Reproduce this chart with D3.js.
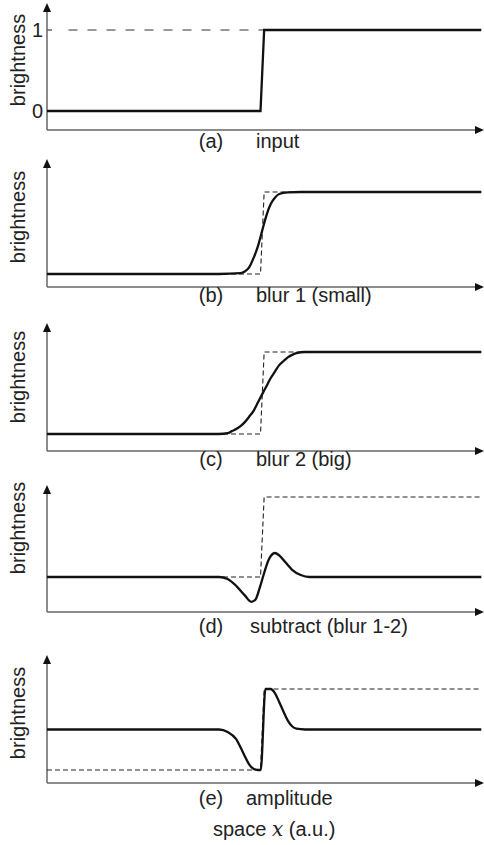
<!DOCTYPE html>
<html>
<head>
<meta charset="utf-8">
<script src="https://cdn.jsdelivr.net/npm/d3@7"></script>
<style>
  body { margin: 0; background: #fff; }
  svg { display: block; }
  text { font-family: "Liberation Sans", Arial, sans-serif; fill: #222; font-size: 20px; }
</style>
</head>
<body>
<div id="chart"></div>
<script>
// x in arbitrary units, edge of the input step at 0
var inputX = [-50, -0.35, 0.5, 51];
var inputY = [0, 0, 1, 1];

var blur1X = [-50, -10, -5, -4, -3, -2, -1, 0, 1, 2, 3, 4, 6, 9, 51];
var blur1Y = [0, 0, 0.01, 0.03, 0.08, 0.19, 0.33, 0.52, 0.71, 0.85, 0.93, 0.975, 0.995, 1, 1];

var blur2X = [-50, -10, -8, -7, -6, -5, -4, -3, -2, -1, 0, 1, 2, 3, 4, 5, 6, 7, 8, 10, 51];
var blur2Y = [0, 0, 0.01, 0.035, 0.06, 0.095, 0.145, 0.21, 0.28, 0.38, 0.48, 0.58, 0.68, 0.76, 0.84, 0.89, 0.935, 0.965, 0.985, 1, 1];

var subX = [-50, -10, -8, -6, -4, -2.5, -1.5, -0.5, 0.5, 1.5, 3, 4, 5.5, 7, 9, 11, 51];
var subY = [0, 0, -0.025, -0.11, -0.23, -0.31, -0.28, -0.13, 0.05, 0.21, 0.30, 0.27, 0.18, 0.09, 0.025, 0, 0];

var ampX = [-50, -10, -8, -6, -5, -4, -3, -2, -1, -0.3, 0.8, 2, 3, 4, 5, 6, 7, 8, 10, 51];
var ampY = [0.5, 0.5, 0.47, 0.38, 0.28, 0.17, 0.07, 0.015, 0, 0, 1, 1, 0.95, 0.84, 0.72, 0.61, 0.54, 0.51, 0.5, 0.5];

var panelLetters = ["(a)", "(b)", "(c)", "(d)", "(e)"];
var panelNames = ["input", "blur 1 (small)", "blur 2 (big)", "subtract (blur 1-2)", "amplitude"];
var tickValues = [0, 1];
var tickLabels = ["0", "1"];

var width = 484, height = 845;
var svg = d3.select("#chart").append("svg")
    .attr("width", width)
    .attr("height", height);

var x = d3.scaleLinear().domain([-50, 50]).range([47, 477]);
var axisLeft = 47, axisRight = 484;

// layout per panel: y of level 0 / level 1, x axis, arrow tip, labels
var panels = [
  {lo: 111, hi: 30, axis: 130, tip: 3, ylab: 60, cap: 148, nameX: 256},
  {lo: 274, hi: 192, axis: 287, tip: 159, ylab: 217, cap: 302, nameX: 256},
  {lo: 434, hi: 352, axis: 451, tip: 323, ylab: 377, cap: 466, nameX: 256},
  {lo: 577, hi: 497, axis: 612, tip: 485, ylab: 528, cap: 633, nameX: 250},
  {lo: 770, hi: 689, axis: 783, tip: 655, ylab: 713, cap: 805, nameX: 246}
];

var series = [
  d3.zip(inputX, inputY),
  d3.zip(blur1X, blur1Y),
  d3.zip(blur2X, blur2Y),
  d3.zip(subX, subY),
  d3.zip(ampX, ampY)
];

panels.forEach(function(p, i) {
  var y = d3.scaleLinear().domain([0, 1]).range([p.lo, p.hi]);
  var g = svg.append("g");

  var line = d3.line()
      .x(function(d) { return x(d[0]); })
      .y(function(d) { return y(d[1]); });

  // axes with arrow heads
  g.append("line")
      .attr("x1", axisLeft).attr("x2", axisRight - 6)
      .attr("y1", p.axis).attr("y2", p.axis)
      .attr("stroke", "#666").attr("stroke-width", 1.5);
  g.append("line")
      .attr("x1", axisLeft).attr("x2", axisLeft)
      .attr("y1", p.axis).attr("y2", p.tip + 6)
      .attr("stroke", "#666").attr("stroke-width", 1.5);
  g.append("path")
      .attr("d", "M" + axisRight + "," + p.axis + "l-9,-4l0,8z")
      .attr("fill", "#111");
  g.append("path")
      .attr("d", "M" + axisLeft + "," + p.tip + "l-4,9l8,0z")
      .attr("fill", "#111");

  if (i == 0) {
    // level 1 reference
    g.append("path")
        .attr("d", line([[-45, 1], [0.5, 1]]))
        .attr("fill", "none")
        .attr("stroke", "#333").attr("stroke-width", 1)
        .attr("stroke-dasharray", "9,10");
    tickValues.forEach(function(v, k) {
      g.append("line")
          .attr("x1", axisLeft).attr("x2", axisLeft + 5)
          .attr("y1", y(v)).attr("y2", y(v))
          .attr("stroke", "#666").attr("stroke-width", 1.5);
      g.append("text")
          .attr("x", 43).attr("y", y(v))
          .attr("dy", "0.36em")
          .attr("text-anchor", "end")
          .text(tickLabels[k]);
    });
  } else {
    g.append("path")
        .attr("d", line(series[0]))
        .attr("fill", "none")
        .attr("stroke", "#222").attr("stroke-width", 1.1)
        .attr("stroke-dasharray", "5,3");
  }

  g.append("path")
      .attr("d", i == 0 ? line(series[0]) : line.curve(d3.curveMonotoneX)(series[i]))
      .attr("fill", "none")
      .attr("stroke", "#111").attr("stroke-width", 2.3);

  g.append("text")
      .attr("transform", "translate(25," + p.ylab + ") rotate(-90)")
      .attr("text-anchor", "middle")
      .text("brightness");

  g.append("text")
      .attr("x", 211).attr("y", p.cap)
      .attr("text-anchor", "middle")
      .text(panelLetters[i]);
  g.append("text")
      .attr("x", p.nameX).attr("y", p.cap)
      .text(panelNames[i]);
});

var xlab = svg.append("text")
    .attr("x", 213).attr("y", 836);
xlab.append("tspan").text("space ");
xlab.append("tspan")
    .style("font-family", "'DejaVu Serif', 'Liberation Serif', serif")
    .style("font-style", "italic")
    .text("x");
xlab.append("tspan").text(" (a.u.)");
</script>
</body>
</html>
